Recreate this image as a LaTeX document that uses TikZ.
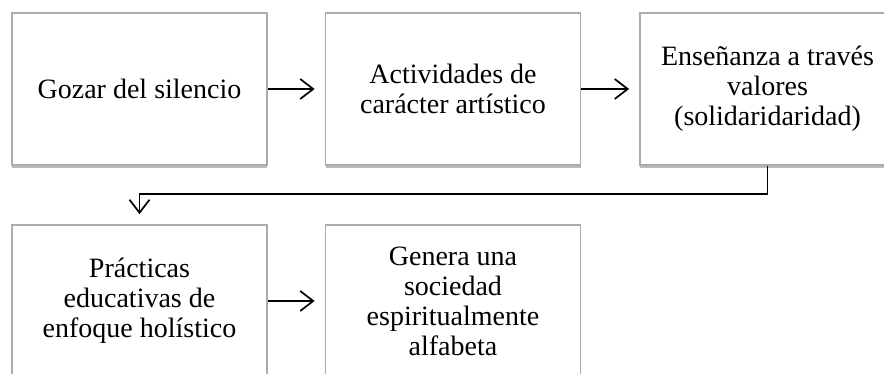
\documentclass[tikz,border=0pt]{standalone}
\usepackage{fontspec}
\setmainfont{Liberation Serif}
\usepackage{tikz}
\usetikzlibrary{arrows.meta}
\usetikzlibrary{shadows}
\usepackage{xcolor}
\definecolor{ColBorde}{RGB}{172,172,172}
\definecolor{ColSombra}{RGB}{120,120,120}
\tikzstyle{BoxFlow}=[rectangle,draw=ColBorde,fill=white,line width=1.8pt,
minimum width=255pt,minimum height=152pt,align=center,
font=\fontsize{28}{30}\selectfont,
drop shadow={shadow xshift=0pt,shadow yshift=-3pt,opacity=0.5,fill=ColSombra}]
\tikzstyle{ArrowFlow}=[black,line width=1.7pt,-{Straight Barb[length=13pt,width=20pt,line width=1.7pt]},
shorten >=10pt]

\begin{document}
\begin{tikzpicture}
        \useasboundingbox(0pt,0pt)rectangle(884pt,-374pt);
        \node[BoxFlow](goz)at(139.5pt,-89pt){Gozar del silencio};
        \node[BoxFlow](act)at(453pt,-89pt){Actividades de\\car\'acter art\'istico};
        \node[BoxFlow](ens)at(767.5pt,-89pt){Ense\~nanza a trav\'es\\valores\\(solidaridaridad)};
        \node[BoxFlow](prac)at(139.5pt,-301pt){Pr\'acticas\\educativas de\\enfoque hol\'istico};
        \node[BoxFlow](gen)at(453pt,-301pt){Genera una\\sociedad\\espiritualmente\\alfabeta};
        \draw[ArrowFlow](goz)--(act);
        \draw[ArrowFlow](act)--(ens);
        \draw[ArrowFlow](ens.south)--++(0pt,-28pt)-|(prac.north);
        \draw[ArrowFlow](prac)--(gen);
    \end{tikzpicture}
\end{document}
